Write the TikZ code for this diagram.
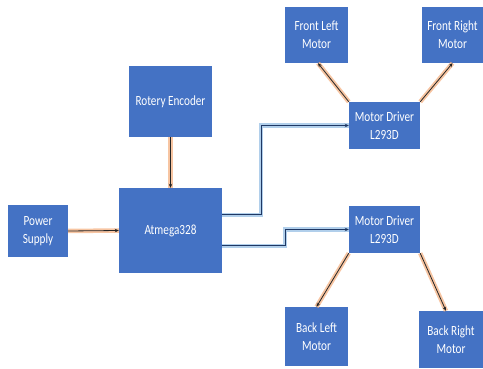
\documentclass[tikz,border=0pt]{standalone}
\usepackage{fontspec}
\setmainfont{Carlito}
\newfontfamily\lblfont{Carlito}[FakeStretch=0.8]
\usetikzlibrary{arrows.meta}
\definecolor{boxblue}{HTML}{4472C4}
\definecolor{glowor}{HTML}{F4B183}
\definecolor{glowbl}{HTML}{9DC3E6}
\definecolor{darkln}{HTML}{262626}
\definecolor{navyln}{HTML}{1F3864}
\tikzset{
  blk/.style={fill=boxblue, text=white, align=center, inner sep=0pt, font=\lblfont\fontsize{14}{18}\selectfont},
  orarrow/.style={draw=darkln, line width=0.8pt, -{Stealth[length=4pt,width=3.5pt]},
    preaction={draw=glowor, line width=4.5pt, opacity=0.75, -}},
  blarrow/.style={draw=navyln, line width=1pt, -{Stealth[length=4pt,width=3.5pt]},
    preaction={draw=glowbl, line width=4.5pt, opacity=0.8, -}}
}
\begin{document}
\begin{tikzpicture}[x=1pt,y=-1pt]
\useasboundingbox (0,0) rectangle (483,369);
\node[blk, minimum width=63pt, minimum height=56pt] (fl) at (316.5,35) {Front Left\\Motor};
\node[blk, minimum width=61pt, minimum height=56pt] (fr) at (452.5,35) {Front Right\\Motor};
\node[blk, minimum width=83pt, minimum height=71pt] (enc) at (170.5,101.5) {Rotery Encoder};
\node[blk, minimum width=71pt, minimum height=47pt] (md1) at (384.5,125.5) {Motor Driver\\L293D};
\node[blk, minimum width=103pt, minimum height=85pt] (atm) at (170.5,230.5) {Atmega328};
\node[blk, minimum width=60pt, minimum height=52pt] (ps) at (38,231) {Power\\Supply};
\node[blk, minimum width=71pt, minimum height=47pt] (md2) at (384.5,229.5) {Motor Driver\\L293D};
\node[blk, minimum width=63pt, minimum height=59pt] (bl) at (316.5,336.5) {Back Left\\Motor};
\node[blk, minimum width=64pt, minimum height=57pt] (br) at (451,339.5) {Back Right\\Motor};

\draw[orarrow] (enc.south) -- (atm.north);
\draw[orarrow] (ps.east) -- (atm.west);
\draw[blarrow] ([yshift=15.5pt]atm.east) -- ++(39,0) |- (md1.west);
\draw[blarrow] ([yshift=-15.5pt]atm.east) -- ++(63,0) |- (md2.west);
\draw[orarrow] (md1.north west) -- ([xshift=1.5pt]fl.south);
\draw[orarrow] (md1.north east) -- (fr.south);
\draw[orarrow] (md2.south west) -- (bl.north);
\draw[orarrow] (md2.south east) -- ([xshift=-5pt]br.north);
\end{tikzpicture}
\end{document}
